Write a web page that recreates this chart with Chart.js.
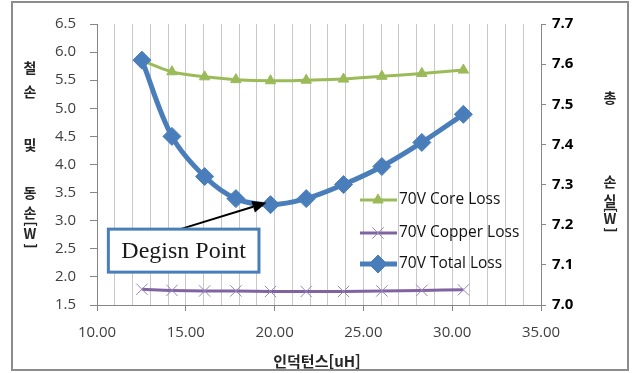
<!DOCTYPE html>
<html lang="ko">
<head>
    <meta charset="UTF-8">
    <title>인덕턴스에 따른 손실</title>
    <script src="https://cdn.jsdelivr.net/npm/chart.js"></script>
    <style>
        body {
            margin: 0;
            padding: 0;
            background: #fff;
        }

        .chart-container {
            position: relative;
            width: 633px;
            height: 373px;
        }
    </style>
</head>
<body>
    <div class="chart-container">
        <canvas id="loss-chart"></canvas>
    </div>

    <script type="text/javascript">
        // 인덕턴스 [uH]
        var inductance = [12.53, 14.22, 16.06, 17.82, 19.77, 21.78, 23.88, 26.04, 28.29, 30.63];
        // 철손, 동손 (left axis) [W]
        var coreLoss = [5.85, 5.65, 5.56, 5.51, 5.49, 5.50, 5.52, 5.57, 5.62, 5.68];
        var copperLoss = [1.78, 1.76, 1.75, 1.75, 1.74, 1.74, 1.74, 1.75, 1.76, 1.77];
        // 총 손실 (right axis) [W]
        var totalLoss = [7.61, 7.42, 7.32, 7.265, 7.25, 7.265, 7.30, 7.345, 7.405, 7.475];

        var seriesNames = ['70V Core Loss', '70V Copper Loss', '70V Total Loss'];

        // axis ranges / steps
        var xRange = [10, 35], xStep = 1, xLabelStep = 5;
        var leftRange = [1.5, 6.5], leftStep = 0.5;
        var rightRange = [7.0, 7.7], rightStep = 0.1;

        var xTitle = '인덕턴스[uH]';
        var leftTitle = ['철', '손', '및', '동', '손', '[', 'W', ']'];
        var rightTitle = ['총', '손', '실', '[', 'W', ']'];

        var designLabel = 'Degisn Point';
        var designIndex = 4;

        function toPoints(xs, ys) {
            return xs.map(function (x, i) { return { x: x, y: ys[i] }; });
        }

        // ---- drawing helpers ----
        function drawStacked(ctx, chars, x, ys) {
            ctx.save();
            ctx.fillStyle = '#262626';
            ctx.font = 'bold 14px "Noto Sans CJK KR"';
            ctx.textAlign = 'center';
            ctx.textBaseline = 'middle';
            chars.forEach(function (c, i) {
                if (c === '[' || c === ']') {
                    ctx.save();
                    ctx.translate(x, ys[i]);
                    ctx.rotate(Math.PI / 2);
                    ctx.fillText(c, 0, 0);
                    ctx.restore();
                } else {
                    ctx.fillText(c, x, ys[i]);
                }
            });
            ctx.restore();
        }

        var framePlugin = {
            id: 'frame',
            beforeDraw: function (chart) {
                var ctx = chart.ctx;
                ctx.save();
                ctx.fillStyle = '#fff';
                ctx.fillRect(0, 0, chart.width, chart.height);
                ctx.strokeStyle = '#8c8c8c';
                ctx.lineWidth = 2;
                ctx.strokeRect(12, 2, 616, 368);
                ctx.restore();
            },
            afterDraw: function (chart) {
                var ctx = chart.ctx;
                var xs = chart.scales.x;
                drawStacked(ctx, leftTitle, 30, [68, 92, 145, 193, 213, 224, 234, 246]);
                drawStacked(ctx, rightTitle, 610, [98, 182, 201, 210, 219, 230]);

                ctx.save();
                ctx.fillStyle = '#262626';
                ctx.font = 'bold 15px "Noto Sans CJK KR"';
                ctx.textAlign = 'center';
                ctx.textBaseline = 'middle';
                ctx.fillText(xTitle, (xs.left + xs.right) / 2 - 2, 361);
                ctx.restore();
            }
        };

        var legendPlugin = {
            id: 'insideLegend',
            afterDatasetsDraw: function (chart) {
                var ctx = chart.ctx;
                var rowsY = [200, 233, 264];
                chart.data.datasets.forEach(function (ds, i) {
                    var y = rowsY[i];
                    ctx.save();
                    ctx.strokeStyle = ds.borderColor;
                    ctx.lineWidth = ds.borderWidth;
                    ctx.beginPath();
                    ctx.moveTo(360, y);
                    ctx.lineTo(397, y);
                    ctx.stroke();
                    ctx.fillStyle = ds.pointBackgroundColor;
                    ctx.strokeStyle = ds.pointBorderColor;
                    ctx.lineWidth = ds.pointBorderWidth;
                    Chart.helpers.drawPoint(ctx, {
                        pointStyle: ds.pointStyle,
                        radius: ds.pointRadius,
                        borderWidth: ds.pointBorderWidth,
                        rotation: 0
                    }, 378, y);
                    ctx.fillStyle = '#111';
                    ctx.font = '15.5px "Open Sans"';
                    ctx.textBaseline = 'middle';
                    ctx.fillText(ds.label, 399, y);
                    ctx.restore();
                });
            }
        };

        var designPlugin = {
            id: 'designPoint',
            afterDatasetsDraw: function (chart) {
                var ctx = chart.ctx;
                var xs = chart.scales.x, y1 = chart.scales.y, y2 = chart.scales.y2;
                var left = xs.getPixelForValue(10.64), right = xs.getPixelForValue(19.12);
                var top = y1.getPixelForValue(2.85), bottom = y1.getPixelForValue(2.085);
                var tipX = xs.getPixelForValue(inductance[designIndex]) - 4;
                var tipY = y2.getPixelForValue(totalLoss[designIndex]) - 2;
                var startX = left + 72, startY = top;

                ctx.save();
                // arrow
                var ang = Math.atan2(tipY - startY, tipX - startX);
                var headLen = 14, headW = 6;
                var baseX = tipX - headLen * Math.cos(ang), baseY = tipY - headLen * Math.sin(ang);
                ctx.strokeStyle = '#000';
                ctx.lineWidth = 2;
                ctx.beginPath();
                ctx.moveTo(startX, startY);
                ctx.lineTo(baseX, baseY);
                ctx.stroke();
                ctx.fillStyle = '#000';
                ctx.beginPath();
                ctx.moveTo(tipX, tipY);
                ctx.lineTo(baseX + headW * Math.sin(ang), baseY - headW * Math.cos(ang));
                ctx.lineTo(baseX - headW * Math.sin(ang), baseY + headW * Math.cos(ang));
                ctx.closePath();
                ctx.fill();

                // box
                ctx.fillStyle = '#fff';
                ctx.fillRect(left, top, right - left, bottom - top);
                ctx.strokeStyle = '#4a7ebb';
                ctx.lineWidth = 3;
                ctx.strokeRect(left, top, right - left, bottom - top);
                ctx.fillStyle = '#1a1a1a';
                ctx.font = '24px "Liberation Serif"';
                ctx.textAlign = 'center';
                ctx.textBaseline = 'middle';
                ctx.fillText(designLabel, (left + right) / 2, (top + bottom) / 2 + 1);
                ctx.restore();
            }
        };

        var axisGray = '#868686';

        var ctx = document.getElementById('loss-chart').getContext('2d');
        var chart = new Chart(ctx, {
            type: 'line',
            data: {
                datasets: [{
                    label: seriesNames[0],
                    data: toPoints(inductance, coreLoss),
                    yAxisID: 'y',
                    borderColor: '#9bbb59',
                    backgroundColor: '#9bbb59',
                    borderWidth: 3,
                    pointStyle: 'triangle',
                    pointRadius: 6,
                    pointBackgroundColor: '#9bbb59',
                    pointBorderColor: '#9bbb59',
                    pointBorderWidth: 1,
                    tension: 0.35,
                    fill: false,
                    order: 1
                }, {
                    label: seriesNames[1],
                    data: toPoints(inductance, copperLoss),
                    yAxisID: 'y',
                    borderColor: '#8064a2',
                    backgroundColor: '#8064a2',
                    borderWidth: 3,
                    pointStyle: 'crossRot',
                    pointRadius: 8,
                    pointBackgroundColor: '#8064a2',
                    pointBorderColor: '#9b84bb',
                    pointBorderWidth: 1,
                    tension: 0.35,
                    fill: false,
                    order: 2
                }, {
                    label: seriesNames[2],
                    data: toPoints(inductance, totalLoss),
                    yAxisID: 'y2',
                    borderColor: '#4a7ebb',
                    backgroundColor: '#4a7ebb',
                    borderWidth: 5,
                    pointStyle: 'rectRot',
                    pointRadius: 9,
                    pointBackgroundColor: '#4a7ebb',
                    pointBorderColor: '#4a7ebb',
                    pointBorderWidth: 1,
                    tension: 0.35,
                    fill: false,
                    order: 0
                }]
            },
            options: {
                responsive: true,
                maintainAspectRatio: false,
                animation: false,
                layout: { padding: { top: 24, left: 0, right: 0, bottom: 0 } },
                plugins: {
                    legend: { display: false },
                    tooltip: { enabled: false }
                },
                scales: {
                    x: {
                        type: 'linear',
                        min: xRange[0],
                        max: xRange[1],
                        afterFit: function (s) { s.height = 68; },
                        ticks: {
                            stepSize: xStep,
                            autoSkip: false,
                            maxRotation: 0,
                            padding: 13,
                            color: '#404040',
                            font: { family: 'Open Sans', size: 15 },
                            callback: function (v) { return v % xLabelStep === 0 ? v.toFixed(2) : ''; }
                        },
                        grid: {
                            color: '#c8c8c8',
                            tickLength: 6,
                            tickColor: function (c) {
                                return c.tick && c.tick.value % xLabelStep === 0 ? axisGray : 'rgba(0,0,0,0)';
                            }
                        },
                        border: { color: axisGray }
                    },
                    y: {
                        type: 'linear',
                        position: 'left',
                        min: leftRange[0],
                        max: leftRange[1],
                        afterFit: function (s) { s.width = 97; },
                        ticks: {
                            stepSize: leftStep,
                            padding: 14,
                            color: '#404040',
                            font: { family: 'Open Sans', size: 15 },
                            callback: function (v) { return v.toFixed(1); }
                        },
                        grid: { drawOnChartArea: false, tickLength: 7, tickColor: axisGray },
                        border: { color: axisGray }
                    },
                    y2: {
                        type: 'linear',
                        position: 'right',
                        min: rightRange[0],
                        max: rightRange[1],
                        afterFit: function (s) { s.width = 92; },
                        ticks: {
                            stepSize: rightStep,
                            padding: 6,
                            color: '#000',
                            font: { family: 'Open Sans', size: 15, weight: 'bold' },
                            callback: function (v) { return v.toFixed(1); }
                        },
                        grid: { drawOnChartArea: false, tickLength: 5, tickColor: axisGray },
                        border: { color: axisGray }
                    }
                }
            },
            plugins: [framePlugin, legendPlugin, designPlugin]
        });
    </script>
</body>
</html>
